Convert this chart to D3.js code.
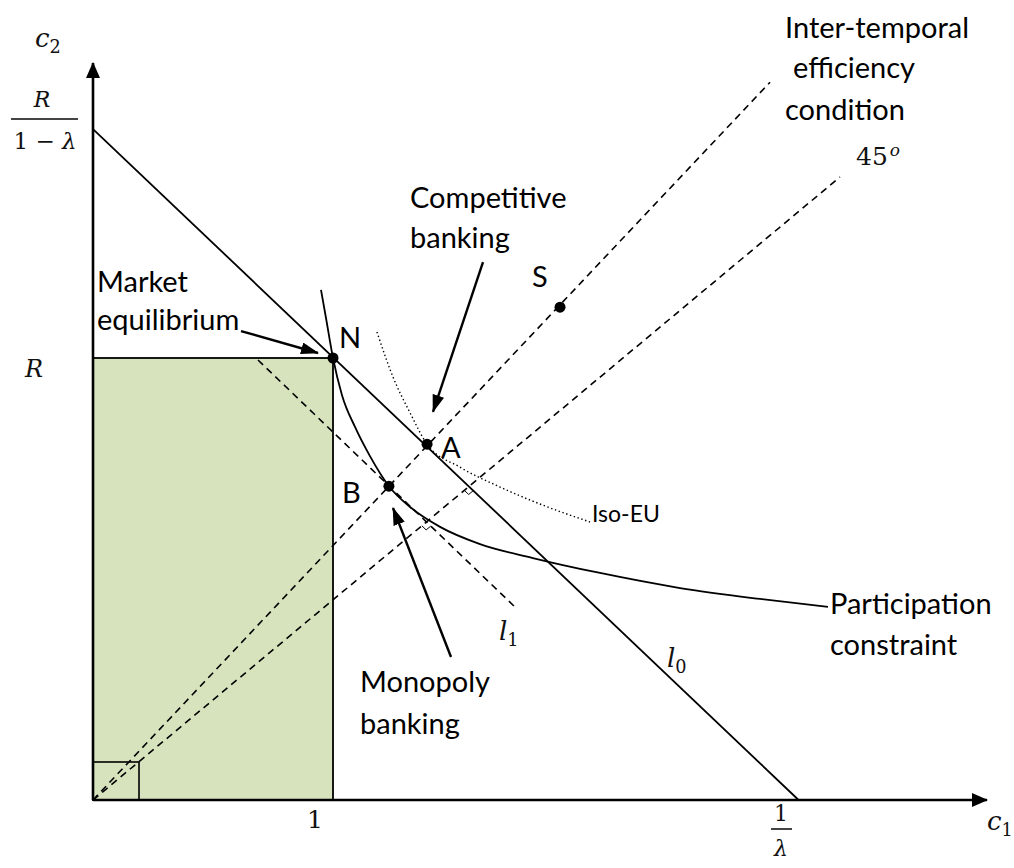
<!DOCTYPE html>
<html>
<head>
<meta charset="utf-8">
<script src="https://cdn.jsdelivr.net/npm/d3@7"></script>
<style>
body { margin: 0; background: #fff; }
</style>
</head>
<body>
<div id="chart"></div>
<script>
// Model units: c1 = 1 at the right edge of the shaded box, c2 = R at its top.
const budgetLine = [[0, 1.518], [2.94, 0]];          // l0
const efficiencyLine = [[0, 0], [2.821, 1.624]];      // inter-temporal efficiency condition
const line45 = [[0, 0], [3.1125, 1.4095]];
const l1Line = [[0.6875, 0.9955], [1.758, 0.4367]];
const participation = [
  [0.95, 1.154], [0.971, 1.09], [1.0, 1.0], [1.0375, 0.916], [1.0917, 0.844],
  [1.154, 0.778], [1.233, 0.71], [1.321, 0.663], [1.446, 0.618], [1.6125, 0.579],
  [1.833, 0.5475], [2.1125, 0.5136], [2.446, 0.4796], [2.779, 0.4548], [3.0625, 0.4367]
];
const isoEU = [
  [1.183, 1.059], [1.25, 0.957], [1.321, 0.876], [1.392, 0.805], [1.529, 0.753],
  [1.696, 0.708], [1.875, 0.667], [2.071, 0.629]
];
const pointNames = ["N", "A", "B", "S"];
const pointC1 = [1.0, 1.392, 1.233, 1.946];
const pointC2 = [1.0, 0.805, 0.71, 1.115];
const arrowFrom = [[0.6167, 1.061], [1.625, 1.217], [1.4917, 0.3235]];
const arrowTo = [[0.9375, 1.0113], [1.4167, 0.878], [1.25, 0.6606]];
const smallBox = [0.1917, 0.086];

const width = 1014;
const height = 868;

const x = d3.scaleLinear().domain([0, 1]).range([93, 333]);
const y = d3.scaleLinear().domain([0, 1]).range([800, 358]);

const svg = d3.select("#chart")
  .append("svg")
  .attr("width", width)
  .attr("height", height)
  .attr("viewBox", [0, 0, width, height]);

const defs = svg.append("defs");
defs.append("marker")
  .attr("id", "head")
  .attr("markerUnits", "userSpaceOnUse")
  .attr("viewBox", "0 0 18 12")
  .attr("refX", 17).attr("refY", 6)
  .attr("markerWidth", 18).attr("markerHeight", 12)
  .attr("orient", "auto")
  .append("path").attr("d", "M0,0L18,6L0,12Z").attr("fill", "#000");
defs.append("marker")
  .attr("id", "axhead")
  .attr("markerUnits", "userSpaceOnUse")
  .attr("viewBox", "0 0 16 14")
  .attr("refX", 15).attr("refY", 7)
  .attr("markerWidth", 16).attr("markerHeight", 14)
  .attr("orient", "auto")
  .append("path").attr("d", "M0,0L16,7L0,14Z").attr("fill", "#000");

const line = d3.line().x(d => x(d[0])).y(d => y(d[1]));
const curve = d3.line().x(d => x(d[0])).y(d => y(d[1])).curve(d3.curveMonotoneX);

// shaded box and the small box at the origin
svg.append("rect")
  .attr("x", x(0)).attr("y", y(1))
  .attr("width", x(1) - x(0)).attr("height", y(0) - y(1))
  .attr("fill", "#d7e3bd")
  .attr("stroke", "#000").attr("stroke-width", 1.8);
svg.append("rect")
  .attr("x", x(0)).attr("y", y(smallBox[1]))
  .attr("width", x(smallBox[0]) - x(0)).attr("height", y(0) - y(smallBox[1]))
  .attr("fill", "none").attr("stroke", "#000").attr("stroke-width", 1.6);

// dashed rays and l1
for (const seg of [efficiencyLine, line45, l1Line]) {
  svg.append("path").attr("d", line(seg))
    .attr("fill", "none").attr("stroke", "#000")
    .attr("stroke-width", 1.6).attr("stroke-dasharray", "7,5");
}

// right-angle marks where the 45 degree ray meets l1 and l0
function crossing(a, b) {
  const [p1, p2] = a.map(d => [x(d[0]), y(d[1])]);
  const [p3, p4] = b.map(d => [x(d[0]), y(d[1])]);
  const d = (p1[0] - p2[0]) * (p3[1] - p4[1]) - (p1[1] - p2[1]) * (p3[0] - p4[0]);
  const t = ((p1[0] - p3[0]) * (p3[1] - p4[1]) - (p1[1] - p3[1]) * (p3[0] - p4[0])) / d;
  return [p1[0] + t * (p2[0] - p1[0]), p1[1] + t * (p2[1] - p1[1])];
}
function unit(seg, sign) {
  const dx = x(seg[1][0]) - x(seg[0][0]), dy = y(seg[1][1]) - y(seg[0][1]);
  const n = Math.hypot(dx, dy);
  return [sign * dx / n, sign * dy / n];
}
for (const other of [l1Line, budgetLine]) {
  const c = crossing(line45, other);
  const u = unit(line45, -1), v = unit(other, 1);
  const k = 6;
  svg.append("path")
    .attr("d", `M${c[0] + u[0] * k},${c[1] + u[1] * k}L${c[0] + u[0] * k + v[0] * k},${c[1] + u[1] * k + v[1] * k}L${c[0] + v[0] * k},${c[1] + v[1] * k}`)
    .attr("fill", "none").attr("stroke", "#000").attr("stroke-width", 1);
}

// budget line l0, participation constraint, iso-EU curve
svg.append("path").attr("d", line(budgetLine))
  .attr("fill", "none").attr("stroke", "#000").attr("stroke-width", 1.8);
svg.append("path").attr("d", curve(participation))
  .attr("fill", "none").attr("stroke", "#000").attr("stroke-width", 1.8);
svg.append("path").attr("d", curve(isoEU))
  .attr("fill", "none").attr("stroke", "#000")
  .attr("stroke-width", 1.4).attr("stroke-dasharray", "1.4,2.6");

// axes
svg.append("line")
  .attr("x1", x(0)).attr("y1", y(0)).attr("x2", 987).attr("y2", y(0))
  .attr("stroke", "#000").attr("stroke-width", 2.6).attr("marker-end", "url(#axhead)");
svg.append("line")
  .attr("x1", x(0)).attr("y1", y(0)).attr("x2", x(0)).attr("y2", 63)
  .attr("stroke", "#000").attr("stroke-width", 2.6).attr("marker-end", "url(#axhead)");

// annotation arrows
arrowFrom.forEach((f, i) => {
  svg.append("line")
    .attr("x1", x(f[0])).attr("y1", y(f[1]))
    .attr("x2", x(arrowTo[i][0])).attr("y2", y(arrowTo[i][1]))
    .attr("stroke", "#000").attr("stroke-width", 2.4)
    .attr("marker-end", "url(#head)");
});

// points
svg.append("g")
  .selectAll("circle")
  .data(pointNames)
  .join("circle")
  .attr("cx", (d, i) => x(pointC1[i]))
  .attr("cy", (d, i) => y(pointC2[i]))
  .attr("r", 5.5)
  .attr("fill", "#000");

// plain text labels
const sans = "Lato, 'Open Sans', sans-serif";
const labels = [
  ["Inter-temporal", 785, 38], ["efficiency", 793, 78], ["condition", 785, 120],
  ["Competitive", 410, 208], ["banking", 410, 248],
  ["Market", 97, 292], ["equilibrium", 97, 330],
  ["Monopoly", 360, 692], ["banking", 360, 734],
  ["Participation", 830, 614], ["constraint", 830, 655],
  ["N", 339, 348], ["A", 441, 458], ["B", 342, 503], ["S", 532, 287]
];
svg.append("g")
  .attr("font-family", sans)
  .attr("font-size", 29)
  .attr("fill", "#000")
  .selectAll("text")
  .data(labels)
  .join("text")
  .attr("x", d => d[1]).attr("y", d => d[2])
  .text(d => d[0]);
svg.append("text")
  .attr("x", 592).attr("y", 522)
  .attr("font-family", sans).attr("font-size", 23)
  .text("Iso-EU");

// math labels
const serif = "'DejaVu Serif', serif";
const math = svg.append("g").attr("font-family", serif).attr("fill", "#111");

function sub(xp, yp, main, s, size) {
  const t = math.append("text").attr("x", xp).attr("y", yp).attr("font-size", size);
  t.append("tspan").attr("font-style", "italic").text(main);
  t.append("tspan").attr("font-size", size * 0.68).attr("dy", size * 0.22).text(s);
}
sub(35, 47, "c", "2", 26);
sub(987, 830, "c", "1", 26);
sub(499, 640, "l", "1", 26);
sub(667, 667, "l", "0", 26);

math.append("text").attr("x", 42).attr("y", 107).attr("text-anchor", "middle")
  .attr("font-size", 22).attr("font-style", "italic").text("R");
math.append("line").attr("x1", 11).attr("x2", 78).attr("y1", 119).attr("y2", 119)
  .attr("stroke", "#444").attr("stroke-width", 2);
const denom = math.append("text").attr("x", 45).attr("y", 149).attr("text-anchor", "middle")
  .attr("font-size", 23);
denom.append("tspan").text("1 − ");
denom.append("tspan").attr("font-style", "italic").text("λ");

math.append("text").attr("x", 25).attr("y", 377)
  .attr("font-size", 24).attr("font-style", "italic").text("R");

math.append("text").attr("x", 315).attr("y", 828).attr("text-anchor", "middle")
  .attr("font-size", 25).text("1");

math.append("text").attr("x", 781).attr("y", 821).attr("text-anchor", "middle")
  .attr("font-size", 22).text("1");
math.append("line").attr("x1", 771).attr("x2", 792).attr("y1", 829).attr("y2", 829)
  .attr("stroke", "#444").attr("stroke-width", 2);
math.append("text").attr("x", 781).attr("y", 856).attr("text-anchor", "middle")
  .attr("font-size", 22).attr("font-style", "italic").text("λ");

const deg = math.append("text").attr("x", 856).attr("y", 165).attr("font-size", 25);
deg.append("tspan").text("45");
deg.append("tspan").attr("dx", 2).attr("dy", -9).attr("font-size", 17)
  .attr("font-style", "italic").text("o");
</script>
</body>
</html>
